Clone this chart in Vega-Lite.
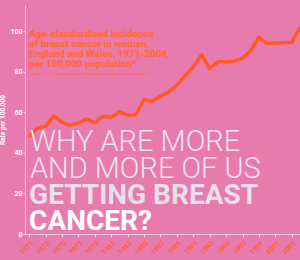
{
  "$schema": "https://vega.github.io/schema/vega-lite/v6.json",
  "width": 275,
  "height": 229,
  "autosize": {"type": "none"},
  "padding": {"left": 25, "top": 5, "right": 0, "bottom": 26},
  "background": "#E87BAE",
  "config": {"view": {"stroke": null}},
  "datasets": {
    "incidence": [
      {"year": 1971, "rate": 48.0}, {"year": 1972, "rate": 52.3}, {"year": 1973, "rate": 53.1},
      {"year": 1974, "rate": 58.3}, {"year": 1975, "rate": 55.2}, {"year": 1976, "rate": 53.6},
      {"year": 1977, "rate": 54.8}, {"year": 1978, "rate": 56.8}, {"year": 1979, "rate": 54.8},
      {"year": 1980, "rate": 58.1}, {"year": 1981, "rate": 57.6}, {"year": 1982, "rate": 60.2},
      {"year": 1983, "rate": 58.6}, {"year": 1984, "rate": 58.9}, {"year": 1985, "rate": 66.3},
      {"year": 1986, "rate": 65.5}, {"year": 1987, "rate": 68.0}, {"year": 1988, "rate": 70.0},
      {"year": 1989, "rate": 73.5}, {"year": 1990, "rate": 78.0}, {"year": 1991, "rate": 82.5},
      {"year": 1992, "rate": 88.5}, {"year": 1993, "rate": 81.5}, {"year": 1994, "rate": 85.0},
      {"year": 1995, "rate": 85.0}, {"year": 1996, "rate": 85.3}, {"year": 1997, "rate": 86.8},
      {"year": 1998, "rate": 90.5}, {"year": 1999, "rate": 97.2}, {"year": 2000, "rate": 94.0},
      {"year": 2001, "rate": 94.2}, {"year": 2002, "rate": 94.4}, {"year": 2003, "rate": 94.6},
      {"year": 2004, "rate": 102.0}
    ],
    "heading": [
      {"year": 1971, "rate": 97.4, "label": "Age-standardised incidence"},
      {"year": 1971, "rate": 92.4, "label": "of breast cancer in women,"},
      {"year": 1971, "rate": 87.4, "label": "England and Wales, 1971-2004,"},
      {"year": 1971, "rate": 82.4, "label": "per 100,000 population*"}
    ],
    "footnote": [
      {"year": 1971, "rate": 78.5, "label": "*Source: Office for National Statistics and Welsh Cancer Intelligence and Surveillance Unit"}
    ],
    "headlineLight": [
      {"year": 1971.1, "rate": 41.0, "label": "WHY ARE MORE"},
      {"year": 1971.1, "rate": 27.6, "label": "AND MORE OF US"}
    ],
    "headlineBold": [
      {"year": 1971.0, "rate": 14.8, "label": "GETTING BREAST", "tone": "silver"},
      {"year": 1971.0, "rate": 2.0, "label": "CANCER?", "tone": "white"}
    ]
  },
  "encoding": {
    "x": {
      "field": "year", "type": "quantitative",
      "scale": {"domain": [1970.5, 2004], "nice": false, "zero": false},
      "axis": {
        "values": [1971, 1973, 1975, 1977, 1979, 1981, 1983, 1985, 1987, 1989, 1991, 1993, 1995, 1997, 1999, 2001, 2003],
        "format": "d", "title": null, "grid": false,
        "labelAngle": -45, "labelColor": "#F5673A", "labelFontSize": 7, "labelFontWeight": "bold",
        "labelFont": "Roboto", "labelPadding": 2,
        "domainColor": "#F6CBE0", "tickColor": "#F6CBE0", "tickSize": 3, "labelOverlap": false
      }
    },
    "y": {
      "field": "rate", "type": "quantitative",
      "scale": {"domain": [0, 113], "nice": false},
      "axis": {
        "values": [0, 20, 40, 60, 80, 100], "grid": false,
        "title": "Rate per 100,000", "titleColor": "#FFFFFF", "titleFontSize": 6.5, "titleFontWeight": "bold",
        "titleFont": "Roboto", "titlePadding": 4,
        "labelColor": "#FFFFFF", "labelFontSize": 7, "labelFontWeight": "bold", "labelFont": "Roboto",
        "labelPadding": 1, "domainColor": "#F6CBE0", "tickColor": "#F6CBE0", "tickSize": 2
      }
    }
  },
  "layer": [
    {
      "data": {"name": "incidence"},
      "mark": {"type": "line", "color": "#FF5A26", "strokeWidth": 3.5, "strokeJoin": "round"}
    },
    {
      "data": {"name": "heading"},
      "mark": {"type": "text", "align": "left", "baseline": "alphabetic", "font": "Liberation Sans Narrow, Roboto, sans-serif", "fontWeight": "bold", "fontSize": 9.9, "color": "#FF6A3A", "stroke": "#FF6A3A", "strokeWidth": 0.25},
      "encoding": {"text": {"field": "label"}}
    },
    {
      "data": {"name": "footnote"},
      "mark": {"type": "text", "align": "left", "baseline": "alphabetic", "font": "Liberation Sans Narrow, Roboto, sans-serif", "fontSize": 3.1, "color": "#FF6A3A"},
      "encoding": {"text": {"field": "label"}}
    },
    {
      "data": {"name": "headlineLight"},
      "mark": {"type": "text", "align": "left", "baseline": "alphabetic", "font": "Roboto", "fontWeight": 300, "fontSize": 29, "color": "#EEE3EC"},
      "encoding": {"text": {"field": "label"}}
    },
    {
      "data": {"name": "headlineBold"},
      "mark": {"type": "text", "align": "left", "baseline": "alphabetic", "font": "Roboto", "fontWeight": "bold", "fontSize": 28},
      "encoding": {
        "text": {"field": "label"},
        "color": {"field": "tone", "type": "nominal", "scale": {"domain": ["silver", "white"], "range": ["#E8DFEA", "#FFFFFF"]}, "legend": null}
      }
    }
  ]
}
